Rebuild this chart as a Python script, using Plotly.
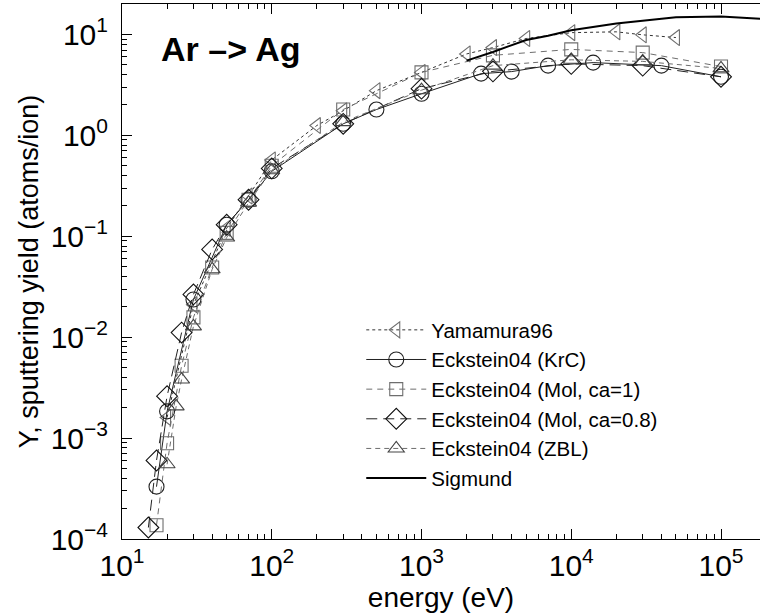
import plotly.graph_objects as go
import numpy as np

# ---- data ----
yam_E = [20, 30, 50, 70, 100, 200, 300, 500, 1000, 2000, 3000, 5000, 10000, 20000, 30000, 50000]
yam_Y = [1.6e-3, 0.021, 0.12, 0.25, 0.57, 1.25, 1.75, 2.77, 4.2, 6.4, 7.4, 9.1, 10.4, 10.6, 9.9, 9.3]

krc_E = [17, 20, 30, 50, 70, 100, 300, 500, 1000, 2500, 4000, 7000, 14000, 40000, 100000]
krc_Y = [3.3e-4, 1.84e-3, 0.0236, 0.13, 0.23, 0.44, 1.3, 1.8, 2.58, 4.08, 4.28, 4.9, 5.25, 4.9, 3.8]

mol1_E = [17, 20, 25, 30, 40, 50, 70, 100, 300, 1000, 3000, 10000, 30000, 100000]
mol1_Y = [1.37e-4, 8.9e-4, 5.2e-3, 0.0157, 0.049, 0.108, 0.23, 0.5, 1.8, 4.2, 6.2, 7.1, 6.6, 4.8]

mol08_E = [15, 17, 20, 25, 30, 40, 50, 70, 100, 300, 1000, 3000, 10000, 30000, 100000]
mol08_Y = [1.3e-4, 6.0e-4, 2.6e-3, 0.0111, 0.0265, 0.074, 0.13, 0.23, 0.47, 1.3, 2.9, 4.3, 5.1, 4.9, 3.8]

zbl_E = [20, 23, 25, 30, 40, 50, 70, 100, 300, 1000, 3000, 10000, 30000, 100000]
zbl_Y = [5.5e-4, 2.06e-3, 3.8e-3, 0.0128, 0.047, 0.097, 0.215, 0.45, 1.35, 2.8, 4.9, 5.6, 5.4, 4.6]

sig_E = [2000, 3000, 5000, 7000, 10000, 20000, 50000, 100000, 200000]
sig_Y = [5.5, 6.7, 8.8, 9.7, 11.0, 12.8, 14.8, 15.0, 14.2]

x_tick_vals = [10, 100, 1000, 10000, 100000]
x_tick_text = ["10<sup>1</sup>", "10<sup>2</sup>", "10<sup>3</sup>", "10<sup>4</sup>", "10<sup>5</sup>"]
y_tick_vals = [1e-4, 1e-3, 1e-2, 1e-1, 1, 10]
y_tick_text = ["10<sup>\u22124</sup>", "10<sup>\u22123</sup>", "10<sup>\u22122</sup>",
               "10<sup>\u22121</sup>", "10<sup>0</sup>", "10<sup>1</sup>"]

x_minor = [m * 10 ** d for d in range(1, 6) for m in range(2, 10)]
y_minor = [m * 10.0 ** d for d in range(-4, 2) for m in range(2, 10)]

FONT = "Liberation Sans, Arial, Helvetica, sans-serif"
GRAY = "#6e6e6e"

fig = go.Figure()

def add(E, Y, name, sym, mcol, lcol, dash, lw=1.0, size=14):
    fig.add_trace(go.Scatter(
        x=E, y=Y, name=name, mode="lines+markers",
        line=dict(color=lcol, width=lw, dash=dash),
        marker=dict(symbol=sym, size=size, color=mcol,
                    line=dict(color=mcol, width=1.1)),
    ))

add(yam_E, yam_Y, "Yamamura96", "triangle-left-open", GRAY, "#333", "dot")
add(krc_E, krc_Y, "Eckstein04 (KrC)", "circle-open", "#222", "#222", "solid", size=15)
add(mol1_E, mol1_Y, "Eckstein04 (Mol, ca=1)", "square-open", GRAY, GRAY, "6px,5px", size=13)
add(mol08_E, mol08_Y, "Eckstein04 (Mol, ca=0.8)", "diamond-open", "#111", "#222", "11px,6px", size=16)
add(zbl_E, zbl_Y, "Eckstein04 (ZBL)", "triangle-up-open", "#444", GRAY, "5px,4px", size=14)
fig.add_trace(go.Scatter(x=sig_E, y=sig_Y, name="Sigmund", mode="lines",
                         line=dict(color="black", width=2)))

axis_common = dict(
    type="log", showgrid=False, zeroline=False,
    showline=True, linecolor="black", linewidth=1,
    ticks="inside", ticklen=10, tickcolor="black", tickwidth=1,
    tickfont=dict(family=FONT, size=30, color="black"),
)

fig.update_layout(
    width=760, height=616,
    margin=dict(l=122, r=0, t=4, b=77),
    paper_bgcolor="white", plot_bgcolor="white",
    font=dict(family=FONT, color="black"),
    xaxis=dict(axis_common, range=[1, 1 + 638 / 149.75], mirror="ticks",
               tickvals=x_tick_vals, ticktext=x_tick_text,
               minor=dict(ticks="inside", ticklen=5, tickcolor="black", tickwidth=1,
                          tickvals=x_minor, showgrid=False),
               title=dict(text="energy (eV)", font=dict(family=FONT, size=28), standoff=2)),
    yaxis=dict(axis_common, range=[-4, np.log10(20)], mirror=False,
               tickvals=y_tick_vals, ticktext=y_tick_text, ticklabelstandoff=7,
               minor=dict(ticks="inside", ticklen=5, tickcolor="black", tickwidth=1,
                          tickvals=y_minor, showgrid=False),
               title=dict(text="Y, sputtering yield (atoms/ion)", font=dict(family=FONT, size=27), standoff=4)),
    legend=dict(x=0.375, y=0.428, xanchor="left", yanchor="top",
                bgcolor="rgba(0,0,0,0)", font=dict(family=FONT, size=20.5),
                itemwidth=60, tracegroupgap=0),
    showlegend=True,
)

fig.add_annotation(text="<b>Ar \u2013> Ag</b>", xref="paper", yref="paper",
                   x=0.058, y=0.915, xanchor="left", yanchor="middle", showarrow=False,
                   font=dict(family=FONT, size=34, color="black"))

fig.write_html("out.html")
